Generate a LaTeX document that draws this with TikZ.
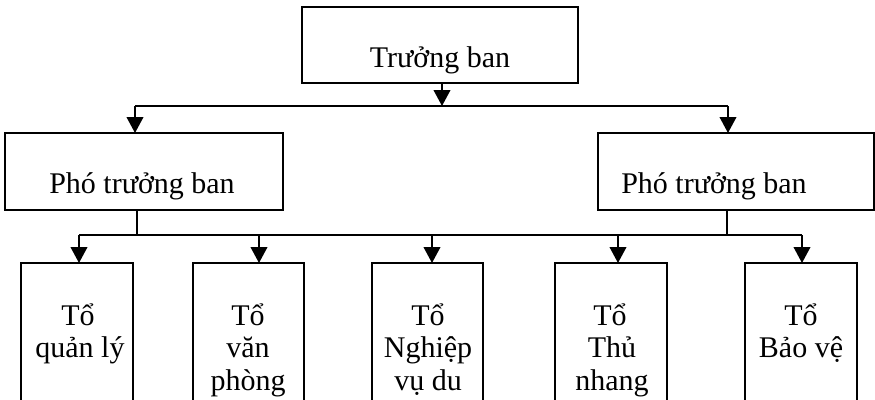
\documentclass[tikz,border=0pt]{standalone}
\usepackage{fontspec}
\setmainfont{Liberation Serif}
\usetikzlibrary{arrows.meta}
\begin{document}
\begin{tikzpicture}[x=0.75pt,y=-0.75pt,
  box/.style={draw,line width=1.4pt,rectangle},
  lbl/.style={anchor=base,inner sep=0pt,font=\fontsize{22.5}{24.75}\selectfont},
  conn/.style={line width=1.4pt},
  arr/.style={line width=1.4pt,-{Triangle[width=12.5pt,length=12pt]}}]
\useasboundingbox (0,0) rectangle (875,400);
\clip (0,0) rectangle (875,400);
% boxes
\draw[box] (302,7) rectangle (578,83);
\draw[box] (5,133) rectangle (283,210);
\draw[box] (598,133) rectangle (874,210);
\draw[box] (21,263) rectangle (133,430);
\draw[box] (193,263) rectangle (304,430);
\draw[box] (372,263) rectangle (483,430);
\draw[box] (555,263) rectangle (667,430);
\draw[box] (745,263) rectangle (857,430);
% labels
\node[lbl] (tl) at (440,67) {Trưởng ban};
\node[lbl] (p1l) at (142,193) {Phó trưởng ban};
\node[lbl] (p2l) at (714,193) {Phó trưởng ban};
\node[lbl] (a1) at (78,325) {Tổ};
\node[lbl] (a2) at (80,357) {quản lý};
\node[lbl] (b1) at (248,325) {Tổ};
\node[lbl] (b2) at (248,357) {văn};
\node[lbl] (b3) at (248,390) {phòng};
\node[lbl] (c1) at (428,325) {Tổ};
\node[lbl] (c2) at (428,357) {Nghiệp};
\node[lbl] (c3) at (428,390) {vụ du};
\node[lbl] (d1) at (610,325) {Tổ};
\node[lbl] (d2) at (612,357) {Thủ};
\node[lbl] (d3) at (612,390) {nhang};
\node[lbl] (e1) at (801,325) {Tổ};
\node[lbl] (e2) at (801,357) {Bảo vệ};
% connector coordinates
\coordinate (tb) at (442,83);
\coordinate (j1) at (442,106);
\coordinate (l1) at (135,106);
\coordinate (r1) at (728,106);
\coordinate (p1t) at (135,133);
\coordinate (p2t) at (728,133);
\coordinate (p1b) at (137,210);
\coordinate (p2b) at (727,210);
\coordinate (h1) at (79,235);
\coordinate (h2) at (802,235);
\coordinate (k1) at (79,263);
\coordinate (k2) at (259,263);
\coordinate (k3) at (432,263);
\coordinate (k4) at (618,263);
\coordinate (k5) at (802,263);
% connectors
\draw[arr] (tb) -- (j1);
\draw[conn] (l1) -- (r1);
\draw[arr] (l1) -- (p1t);
\draw[arr] (r1) -- (p2t);
\draw[conn] (p1b) -- (p1b |- h1);
\draw[conn] (p2b) -- (p2b |- h1);
\draw[conn] (h1) -- (h2);
\draw[arr] (h1) -- (k1);
\draw[arr] (k2 |- h1) -- (k2);
\draw[arr] (k3 |- h1) -- (k3);
\draw[arr] (k4 |- h1) -- (k4);
\draw[arr] (h2) -- (k5);
\end{tikzpicture}
\end{document}
